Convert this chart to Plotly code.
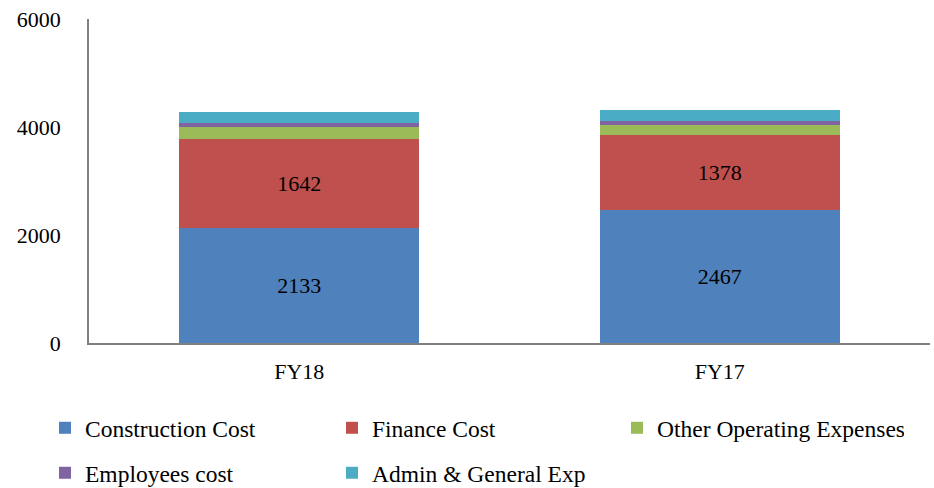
import plotly.graph_objects as go

categories = ["FY18", "FY17"]
construction = [2133, 2467]
finance = [1642, 1378]
other_opex = [216, 185]
employees = [80, 85]
admin = [210, 193]

colors = {
    "Construction Cost": "#4F81BD",
    "Finance Cost": "#C0504D",
    "Other Operating Expenses": "#9BBB59",
    "Employees cost": "#8064A2",
    "Admin & General Exp": "#4BACC6",
}

FONT = "Liberation Serif"

fig = go.Figure()
series = [
    ("Construction Cost", construction, True, "legend"),
    ("Finance Cost", finance, True, "legend"),
    ("Other Operating Expenses", other_opex, False, "legend3"),
    ("Employees cost", employees, False, "legend2"),
    ("Admin & General Exp", admin, False, "legend2"),
]
for name, vals, lab, leg in series:
    fig.add_trace(go.Bar(
        x=categories, y=vals, name=name,
        marker=dict(color=colors[name], line=dict(width=0)),
        text=[str(v) for v in vals] if lab else None,
        textposition="inside" if lab else "none",
        insidetextanchor="middle",
        textfont=dict(family=FONT, size=22, color="black"),
        legend=leg,
        hoverinfo="x+y+name",
    ))

leg_common = dict(orientation="h", xref="container", yref="container",
                  xanchor="left", yanchor="middle",
                  entrywidth=242, entrywidthmode="pixels", itemwidth=30,
                  font=dict(size=23.5), traceorder="normal",
                  bgcolor="rgba(0,0,0,0)")

fig.update_layout(
    barmode="stack",
    bargap=0.43,
    width=934, height=488,
    margin=dict(l=89, r=4, t=19, b=145, autoexpand=False),
    plot_bgcolor="white", paper_bgcolor="white",
    font=dict(family=FONT, size=22, color="black"),
    uniformtext=dict(mode="show", minsize=22),
    xaxis=dict(showline=True, linecolor="#808080", linewidth=1.5,
               ticks="", tickfont=dict(size=22), showgrid=False,
               ticklabelstandoff=8),
    yaxis=dict(range=[0, 6000], tickvals=[0, 2000, 4000, 6000],
               showline=True, linecolor="#808080", linewidth=1.5,
               showgrid=False, zeroline=False, ticks="",
               tickfont=dict(size=22), ticklabelstandoff=22),
    legend=dict(x=45 / 934, y=1 - 428 / 488, **leg_common),
    legend3=dict(x=(45 + 572) / 934, y=1 - 428 / 488, **leg_common),
    legend2=dict(x=45 / 934, y=1 - 473 / 488, **leg_common),
)

fig.write_html("out.html", config={"displayModeBar": False})

# remove default page margin so the figure sits at the window's top-left
with open("out.html", "r", encoding="utf-8") as f:
    html = f.read()
html = html.replace("<head>", "<head><style>html,body{margin:0;padding:0;overflow:hidden;}</style>", 1)
with open("out.html", "w", encoding="utf-8") as f:
    f.write(html)
